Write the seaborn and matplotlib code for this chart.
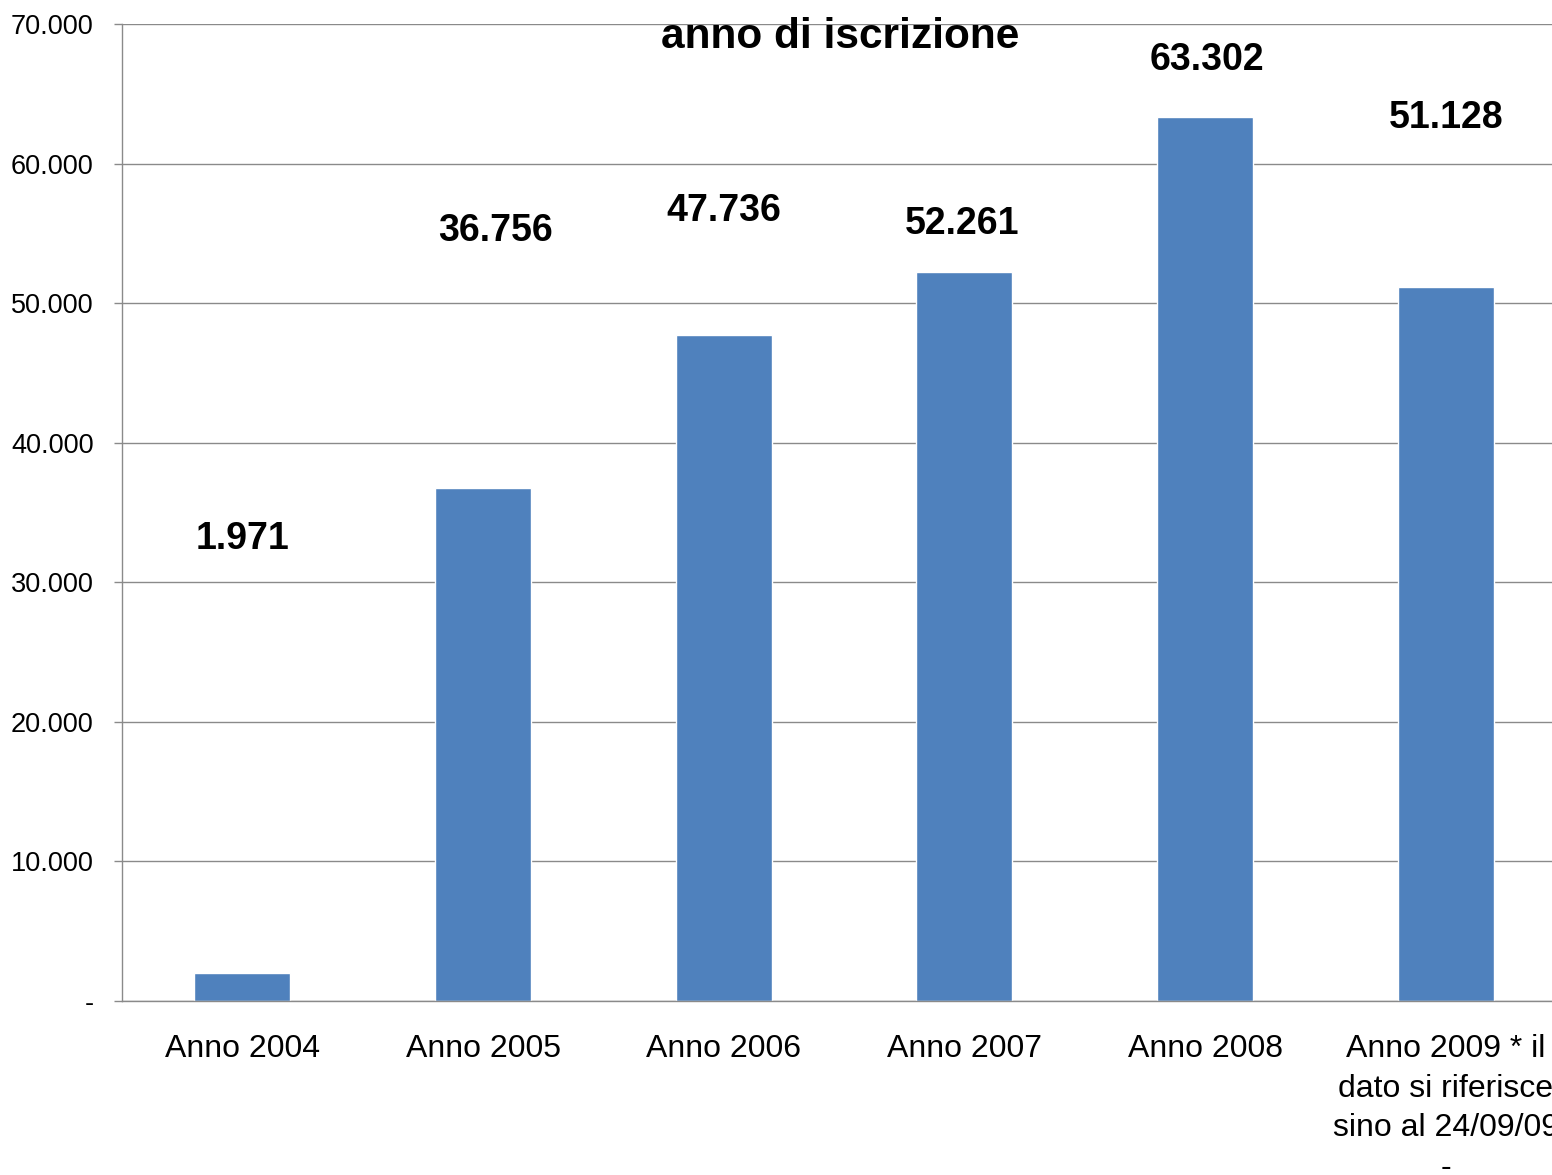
import matplotlib
matplotlib.use("Agg")
import matplotlib.pyplot as plt
import seaborn as sns
import pandas as pd
import numpy as np

categories = ["Anno 2004", "Anno 2005", "Anno 2006", "Anno 2007", "Anno 2008",
              "Anno 2009 * il\ndato si riferisce\nsino al 24/09/09\n-"]
values = [1971, 36756, 47736, 52261, 63302, 51128]
value_labels = ["1.971", "36.756", "47.736", "52.261", "63.302", "51.128"]
yticks = [0, 10000, 20000, 30000, 40000, 50000, 60000, 70000]
ytick_labels = ["-", "10.000", "20.000", "30.000", "40.000", "50.000", "60.000", "70.000"]
title_line = "anno di iscrizione"

# layout: label positions (manually placed in the original)
label_y = [33100, 55200, 56600, 55700, 67400, 63250]
label_dx = [0.0, 0.05, 0.0, -0.01, 0.01, 0.0]

sns.set_theme(style="white")
plt.rcParams['font.family'] = ['Liberation Sans', 'DejaVu Sans']

fig = plt.figure(figsize=(15.52, 11.75), dpi=100)
ax = fig.add_axes([122/1552, 1 - 1001/1175, 1444/1552, 977/1175])

df = pd.DataFrame({"cat": categories, "val": values})
sns.barplot(data=df, x="cat", y="val", order=categories, color="#4F81BD",
            saturation=1, width=0.4, ax=ax)

ax.set_ylim(0, 70000)
ax.set_xlim(-0.5, len(categories) - 0.5)
ax.set_yticks(yticks)
ax.set_yticklabels(ytick_labels, fontsize=19.5, color="black")
ax.set_xlabel("")
ax.set_ylabel("")
ax.yaxis.grid(True, color="#8a8a8a", linewidth=1)
ax.set_axisbelow(True)

ax.set_xticks(range(len(categories)))
ax.set_xticklabels(categories, fontsize=23, linespacing=1.41, color="black")
ax.set_xticks(np.arange(-0.5, len(categories) + 0.5, 1), minor=True)
ax.tick_params(axis="x", which="major", length=0, pad=24)
ax.tick_params(axis="x", which="minor", length=10, width=1, color="#8a8a8a", direction="out")
ax.tick_params(axis="y", which="major", length=6, width=1, color="#8a8a8a", direction="out", pad=14.5, left=True)

for s in ["top", "right"]:
    ax.spines[s].set_visible(False)
for s in ["left", "bottom"]:
    ax.spines[s].set_color("#8a8a8a")
    ax.spines[s].set_linewidth(1)

for i, (lab, ly, dx) in enumerate(zip(value_labels, label_y, label_dx)):
    ax.text(i + dx, ly, lab, ha="center", va="center", fontsize=27, fontweight="bold", color="black")

fig.text(840/1552, 1 - 37/1175, title_line, ha="center", va="center",
         fontsize=30.5, fontweight="bold", color="black")

fig.savefig("out.png", dpi=100)
